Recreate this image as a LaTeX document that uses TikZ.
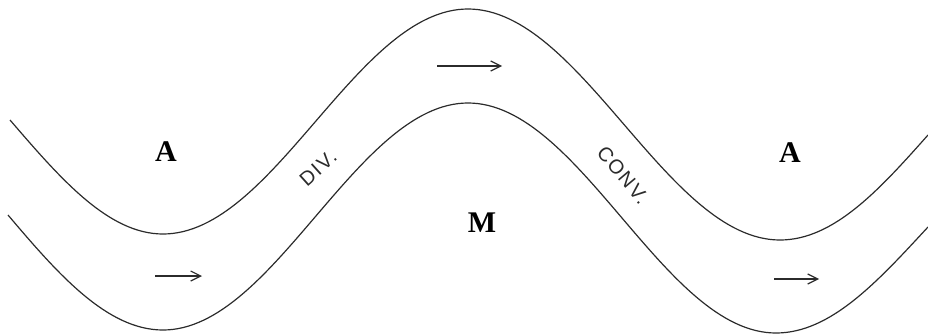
\documentclass[tikz,border=0pt]{standalone}
\usepackage{fontspec}
\setmainfont{Liberation Serif}
\newfontfamily\slopefont[LetterSpace=8]{Liberation Sans}
\usetikzlibrary{arrows.meta}
\definecolor{inkline}{HTML}{2B2B2B}

\begin{document}
\begin{tikzpicture}[x=1pt,y=-1pt,
  stream/.style={draw=inkline,line width=1.2pt},
  flow/.style={-{Straight Barb[length=10pt,width=10pt]},draw=inkline,line width=1.2pt},
  pressure/.style={font=\fontsize{30}{34}\selectfont\bfseries,inner sep=0pt},
  slope/.style={font=\slopefont\fontsize{20}{22}\selectfont,text=inkline,inner sep=0pt}]
\useasboundingbox (0,0) rectangle (928,335);
% upper streamline
\path[stream] (10,120) .. controls (60,178) and (108,234) .. (163,234)
  .. controls (274,234) and (357,9) .. (468,9)
  .. controls (581,9) and (667,240) .. (780,240)
  .. controls (834,240) and (880,189) .. (928,135);
% lower streamline
\path[stream] (8,215) .. controls (58,274) and (107,330) .. (163,330)
  .. controls (274,330) and (357,103) .. (468,103)
  .. controls (580,103) and (664,333) .. (776,333)
  .. controls (831,333) and (878,281) .. (928,227);
% flow arrows
\coordinate (top0) at (437,66);  \coordinate (top1) at (502,66);
\coordinate (left0) at (155,276);  \coordinate (left1) at (202,276);
\coordinate (right0) at (774,279); \coordinate (right1) at (819,279);
\draw[flow] (top0)--(top1);
\draw[flow] (left0)--(left1);
\draw[flow] (right0)--(right1);
% labels
\node[pressure] (highleft) at (166,152) {A};
\node[pressure] (highright) at (790,153) {A};
\node[pressure] (middle) at (482,223) {M};
\node[slope,rotate=42] (div) at (318,168) {DIV.};
\node[slope,rotate=-50] (conv) at (623,175) {CONV.};
\end{tikzpicture}
\end{document}
